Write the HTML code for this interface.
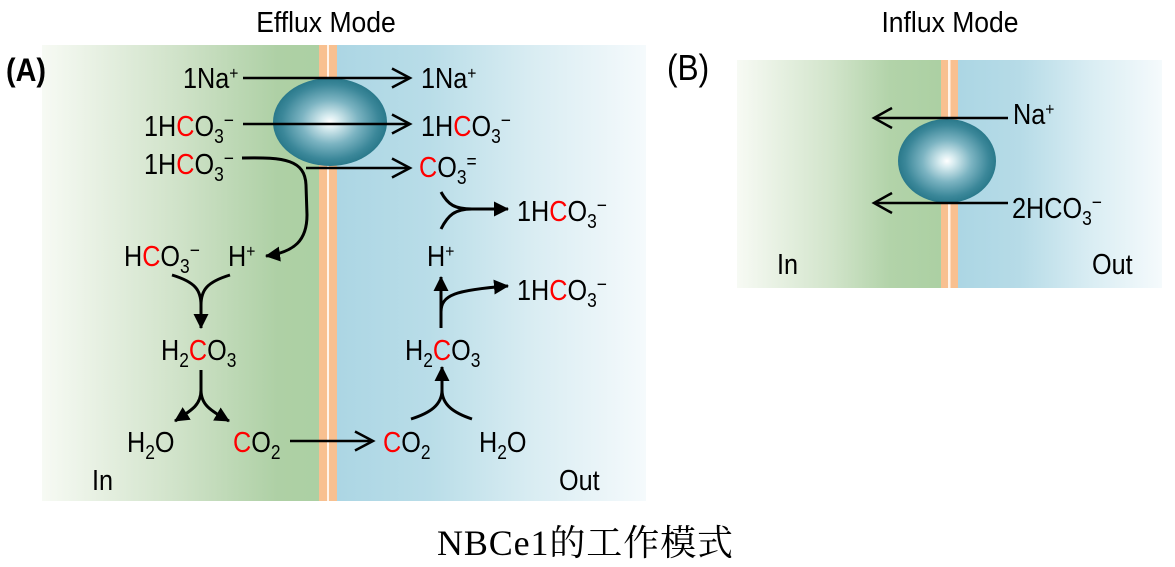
<!DOCTYPE html>
<html><head><meta charset="utf-8"><style>
html,body{margin:0;padding:0;background:#fff;}
svg{display:block;}
text{font-family:"Liberation Sans","Noto Sans CJK SC",sans-serif;font-size:29px;fill:#000;}
.cap{font-family:"Liberation Serif","Noto Serif CJK SC",serif;font-size:36px;}
</style></head><body>
<svg width="1175" height="567" viewBox="0 0 1175 567" xmlns="http://www.w3.org/2000/svg">
<defs>
<linearGradient id="gA" x1="0" y1="0" x2="1" y2="0">
<stop offset="0" stop-color="#f7faf4"/><stop offset="0.5" stop-color="#cfe2c8"/><stop offset="0.85" stop-color="#aed0a5"/><stop offset="1" stop-color="#acd0a3"/>
</linearGradient>
<linearGradient id="bA" x1="0" y1="0" x2="1" y2="0">
<stop offset="0" stop-color="#acd6e4"/><stop offset="0.3" stop-color="#b9dde8"/><stop offset="0.62" stop-color="#d8ecf2"/><stop offset="1" stop-color="#f5fafc"/>
</linearGradient>
<linearGradient id="gB" x1="0" y1="0" x2="1" y2="0">
<stop offset="0" stop-color="#f7faf4"/><stop offset="0.45" stop-color="#d3e5cc"/><stop offset="0.75" stop-color="#b2d3a9"/><stop offset="1" stop-color="#acd0a3"/>
</linearGradient>
<linearGradient id="bB" x1="0" y1="0" x2="1" y2="0">
<stop offset="0" stop-color="#acd6e4"/><stop offset="0.3" stop-color="#b6dbe7"/><stop offset="0.65" stop-color="#d9edf3"/><stop offset="1" stop-color="#f5fafc"/>
</linearGradient>
<radialGradient id="sph" cx="0.5" cy="0.5" r="0.5">
<stop offset="0" stop-color="#ffffff"/><stop offset="0.15" stop-color="#d8ecf0"/><stop offset="0.5" stop-color="#7cb4c2"/><stop offset="0.85" stop-color="#3b8799"/><stop offset="1" stop-color="#2a798b"/>
</radialGradient>
<marker id="ah" markerUnits="userSpaceOnUse" markerWidth="16" markerHeight="16" refX="14" refY="7.5" orient="auto"><path d="M0,0 L15,7.5 L0,15 z" fill="#000"/></marker>
</defs>

<!-- Panel A background -->
<rect x="42" y="45" width="277" height="456" fill="url(#gA)"/>
<rect x="337" y="45" width="309" height="456" fill="url(#bA)"/>
<rect x="319" y="45" width="18" height="456" fill="#f8c090"/>
<rect x="327" y="45" width="2" height="456" fill="#fff4ea"/>

<!-- Panel B background -->
<rect x="737" y="60" width="204" height="228" fill="url(#gB)"/>
<rect x="958" y="60" width="204" height="228" fill="url(#bB)"/>
<rect x="941" y="60" width="17" height="228" fill="#f8c090"/>
<rect x="948" y="60" width="2.5" height="228" fill="#fff4ea"/>

<!-- Titles -->
<text transform="translate(326,32) scale(0.915,1)" text-anchor="middle">Efflux Mode</text>
<text transform="translate(950,32) scale(0.915,1)" text-anchor="middle">Influx Mode</text>
<text transform="translate(6,81) scale(0.9,1)" style="font-weight:bold;font-size:32px">(A)</text>
<text transform="translate(667,80) scale(0.88,1)" style="font-size:36px">(B)</text>

<!-- Spheres -->
<ellipse cx="330" cy="122" rx="57" ry="44" fill="url(#sph)"/>
<ellipse cx="947" cy="161" rx="49" ry="42" fill="url(#sph)"/>

<g stroke="#000" stroke-width="2.5" fill="none">
<path d="M243,78 H410"/><path d="M392,68.5 L410,78 L392,87.5"/>
<path d="M243,124 H410"/><path d="M392,114.5 L410,124 L392,133.5"/>
<path d="M306,168 H410"/><path d="M392,158.5 L410,168 L392,177.5"/>
<path d="M290,441 H373"/><path d="M355,431.5 L373,441 L355,450.5"/>
<path d="M1008,118 H874"/><path d="M892,108 L874,118 L892,128"/>
<path d="M1008,203 H874"/><path d="M892,193 L874,203 L892,213"/>
</g>

<g stroke="#000" stroke-width="3" fill="none">
<path d="M242,158 C285,157 305,160 306,185 L307,215 C307,240 295,252 266,256" marker-end="url(#ah)"/>
<path d="M441,192 C448,205 455,209 472,209 L508,209" marker-end="url(#ah)"/>
<path d="M441,229 C448,215 455,209 472,209"/>
<path d="M172,275 C195,282 201,290 201,305 L201,328" marker-end="url(#ah)"/>
<path d="M230,275 C207,282 201,290 201,305"/>
<path d="M201,370 L201,390 C201,405 192,410 175,421" marker-end="url(#ah)"/>
<path d="M201,390 C201,405 210,410 229,421" marker-end="url(#ah)"/>
<path d="M411,419 C430,413 442,405 442,390 L442,367" marker-end="url(#ah)"/>
<path d="M472,419 C454,413 442,405 442,390"/>
<path d="M441,328 L441,277" marker-end="url(#ah)"/>
<path d="M441,312 C441,295 455,290 508,286" marker-end="url(#ah)"/>
</g>

<!-- Panel A labels -->
<text transform="translate(183,88) scale(0.87,1)">1Na<tspan font-size="18" dy="-9">+</tspan></text>
<text transform="translate(421,88) scale(0.87,1)">1Na<tspan font-size="18" dy="-9">+</tspan></text>

<text transform="translate(144,136) scale(0.87,1)">1H<tspan fill="#f00">C</tspan>O<tspan font-size="20" dy="7">3</tspan><tspan font-size="20" dy="-16">−</tspan></text>
<text transform="translate(421,136) scale(0.87,1)">1H<tspan fill="#f00">C</tspan>O<tspan font-size="20" dy="7">3</tspan><tspan font-size="20" dy="-16">−</tspan></text>

<text transform="translate(144,174) scale(0.87,1)">1H<tspan fill="#f00">C</tspan>O<tspan font-size="20" dy="7">3</tspan><tspan font-size="20" dy="-16">−</tspan></text>
<text transform="translate(419,177) scale(0.87,1)"><tspan fill="#f00">C</tspan>O<tspan font-size="20" dy="7">3</tspan><tspan font-size="20" dy="-16">=</tspan></text>

<text transform="translate(517,221) scale(0.87,1)">1H<tspan fill="#f00">C</tspan>O<tspan font-size="20" dy="7">3</tspan><tspan font-size="20" dy="-16">−</tspan></text>
<text transform="translate(427,266) scale(0.87,1)">H<tspan font-size="18" dy="-9">+</tspan></text>

<text transform="translate(124,266) scale(0.87,1)">H<tspan fill="#f00">C</tspan>O<tspan font-size="20" dy="7">3</tspan><tspan font-size="20" dy="-16">−</tspan></text>
<text transform="translate(228,266) scale(0.87,1)">H<tspan font-size="18" dy="-9">+</tspan></text>

<text transform="translate(517,300) scale(0.87,1)">1H<tspan fill="#f00">C</tspan>O<tspan font-size="20" dy="7">3</tspan><tspan font-size="20" dy="-16">−</tspan></text>

<text transform="translate(161,360) scale(0.87,1)">H<tspan font-size="20" dy="7">2</tspan><tspan fill="#f00" dy="-7">C</tspan>O<tspan font-size="20" dy="7">3</tspan></text>
<text transform="translate(405,360) scale(0.87,1)">H<tspan font-size="20" dy="7">2</tspan><tspan fill="#f00" dy="-7">C</tspan>O<tspan font-size="20" dy="7">3</tspan></text>

<text transform="translate(127,452) scale(0.87,1)">H<tspan font-size="20" dy="7">2</tspan><tspan dy="-7">O</tspan></text>
<text transform="translate(233,452) scale(0.87,1)"><tspan fill="#f00">C</tspan>O<tspan font-size="20" dy="7">2</tspan></text>
<text transform="translate(383,452) scale(0.87,1)"><tspan fill="#f00">C</tspan>O<tspan font-size="20" dy="7">2</tspan></text>
<text transform="translate(479,452) scale(0.87,1)">H<tspan font-size="20" dy="7">2</tspan><tspan dy="-7">O</tspan></text>

<text transform="translate(92,490) scale(0.87,1)">In</text>
<text transform="translate(559,490) scale(0.87,1)">Out</text>

<!-- Panel B labels -->
<text transform="translate(1013,124) scale(0.87,1)">Na<tspan font-size="18" dy="-9">+</tspan></text>
<text transform="translate(1012,218) scale(0.87,1)">2HCO<tspan font-size="20" dy="7">3</tspan><tspan font-size="20" dy="-16">−</tspan></text>
<text transform="translate(777,274) scale(0.87,1)">In</text>
<text transform="translate(1092,274) scale(0.87,1)">Out</text>

<!-- Caption -->
<text class="cap" x="437" y="555" textLength="296" lengthAdjust="spacing">NBCe1的工作模式</text>
</svg>
</body></html>
